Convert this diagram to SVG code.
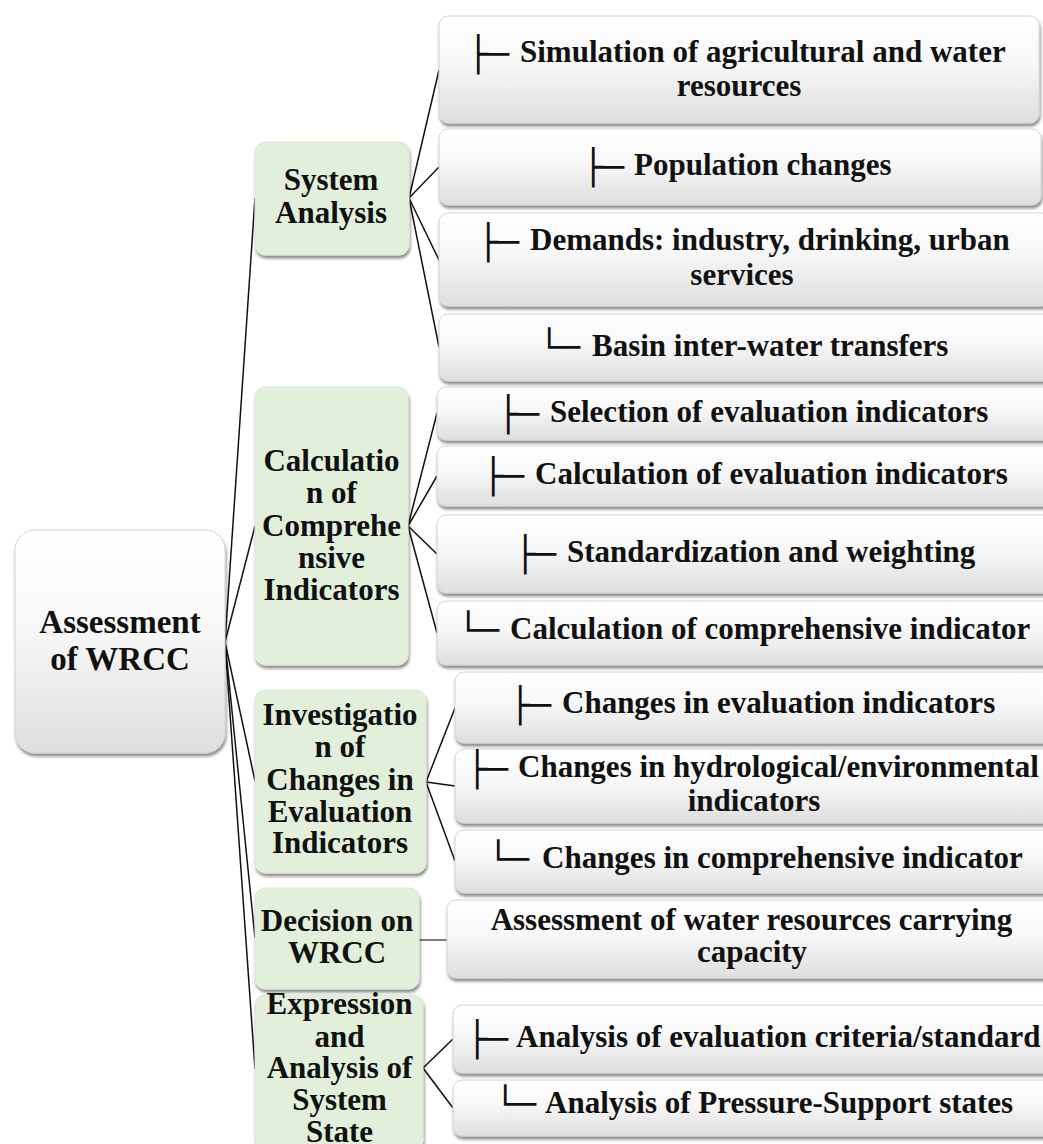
<svg xmlns="http://www.w3.org/2000/svg" width="1043" height="1144" viewBox="0 0 1043 1144">
<defs>
<linearGradient id="gw" x1="0" y1="0" x2="0" y2="1">
<stop offset="0" stop-color="#ffffff"/>
<stop offset="0.45" stop-color="#f7f7f7"/>
<stop offset="1" stop-color="#dedede"/>
</linearGradient>
<filter id="sh" x="-10%" y="-10%" width="120%" height="130%">
<feDropShadow dx="1" dy="3" stdDeviation="1.8" flood-color="#000" flood-opacity="0.45"/>
</filter>
</defs>
<style>
.w{fill:url(#gw);stroke:#d4d4d4;stroke-width:1;filter:url(#sh)}
.g{fill:#e2efda;stroke:#dce8d4;stroke-width:1;filter:url(#sh)}
.t{font-family:"Liberation Serif","Times New Roman",serif;font-weight:bold;font-size:31px;fill:#111}
.c{text-anchor:middle}
.r{font-size:33px}
.s{font-family:"DejaVu Sans",sans-serif;font-weight:normal;font-size:34px}
.ln{stroke:#111;stroke-width:1.5;fill:none}
</style>
<g id="connectors">
<line class="ln" x1="225" y1="642" x2="255" y2="198"/>
<line class="ln" x1="225" y1="642" x2="255" y2="526"/>
<line class="ln" x1="225" y1="642" x2="255" y2="781"/>
<line class="ln" x1="225" y1="642" x2="255" y2="938"/>
<line class="ln" x1="225" y1="642" x2="255" y2="1069"/>
<line class="ln" x1="409" y1="198" x2="439" y2="70"/>
<line class="ln" x1="409" y1="198" x2="439" y2="167"/>
<line class="ln" x1="409" y1="198" x2="439" y2="260"/>
<line class="ln" x1="409" y1="198" x2="439" y2="347"/>
<line class="ln" x1="408" y1="526" x2="437" y2="413"/>
<line class="ln" x1="408" y1="526" x2="437" y2="476"/>
<line class="ln" x1="408" y1="526" x2="437" y2="554"/>
<line class="ln" x1="408" y1="526" x2="437" y2="633"/>
<line class="ln" x1="426" y1="782" x2="455" y2="708"/>
<line class="ln" x1="426" y1="782" x2="455" y2="786"/>
<line class="ln" x1="426" y1="782" x2="455" y2="861"/>
<line class="ln" x1="419" y1="940" x2="447" y2="940" style="stroke:#555"/>
<line class="ln" x1="423" y1="1068" x2="453" y2="1039"/>
<line class="ln" x1="423" y1="1068" x2="453" y2="1108"/>
</g>
<g id="root">
<rect class="w" x="15" y="530" width="210" height="223" rx="20"/>
<text class="t c r" x="120" y="633">Assessment</text>
<text class="t c r" x="120" y="670">of WRCC</text>
</g>
<g id="system-analysis">
<rect class="g" x="255" y="142" width="154" height="113" rx="10"/>
<text class="t c" x="331" y="190">System</text>
<text class="t c" x="331" y="223">Analysis</text>
</g>
<g id="calc-indicators">
<rect class="g" x="255" y="387" width="153" height="278" rx="10"/>
<text class="t c" x="331.5" y="471">Calculatio</text>
<text class="t c" x="331.5" y="503">n of</text>
<text class="t c" x="331.5" y="536">Comprehe</text>
<text class="t c" x="331.5" y="568">nsive</text>
<text class="t c" x="331.5" y="600">Indicators</text>
</g>
<g id="investigation">
<rect class="g" x="255" y="690" width="171" height="183" rx="10"/>
<text class="t c" x="340" y="725">Investigatio</text>
<text class="t c" x="340" y="757">n of</text>
<text class="t c" x="340" y="790">Changes in</text>
<text class="t c" x="340" y="822">Evaluation</text>
<text class="t c" x="340" y="853">Indicators</text>
</g>
<g id="decision">
<rect class="g" x="255" y="888" width="164" height="101" rx="10"/>
<text class="t c" x="337" y="931">Decision on</text>
<text class="t c" x="337" y="963">WRCC</text>
</g>
<g id="expression">
<rect class="g" x="255" y="995" width="168" height="155" rx="10"/>
<text class="t c" x="339.5" y="1014">Expression</text>
<text class="t c" x="339.5" y="1047">and</text>
<text class="t c" x="339.5" y="1078">Analysis of</text>
<text class="t c" x="339.5" y="1110">System</text>
<text class="t c" x="339.5" y="1142">State</text>
</g>
<g id="sa-1">
<rect class="w" x="439" y="16" width="600" height="107" rx="9"/>
<text class="t"><tspan class="s" x="468" y="66">├─</tspan><tspan x="520" y="62">Simulation of agricultural and water</tspan></text>
<text class="t c" x="739" y="96">resources</text>
</g>
<g id="sa-2">
<rect class="w" x="439" y="129" width="602" height="76" rx="9"/>
<text class="t"><tspan class="s" x="583" y="179">├─</tspan><tspan x="634" y="175">Population changes</tspan></text>
</g>
<g id="sa-3">
<rect class="w" x="439" y="213" width="612" height="93" rx="9"/>
<text class="t"><tspan class="s" x="478" y="254">├─</tspan><tspan x="530" y="250">Demands: industry, drinking, urban</tspan></text>
<text class="t c" x="742" y="285">services</text>
</g>
<g id="sa-4">
<rect class="w" x="439" y="314" width="615" height="67" rx="9"/>
<text class="t"><tspan class="s" x="539" y="359">└─</tspan><tspan x="592" y="356">Basin inter-water transfers</tspan></text>
</g>
<g id="ci-1">
<rect class="w" x="437" y="387" width="625" height="53" rx="9"/>
<text class="t"><tspan class="s" x="498" y="426">├─</tspan><tspan x="550" y="422">Selection of evaluation indicators</tspan></text>
</g>
<g id="ci-2">
<rect class="w" x="437" y="446" width="625" height="60" rx="9"/>
<text class="t"><tspan class="s" x="483" y="488">├─</tspan><tspan x="535" y="484">Calculation of evaluation indicators</tspan></text>
</g>
<g id="ci-3">
<rect class="w" x="437" y="515" width="625" height="78" rx="9"/>
<text class="t"><tspan class="s" x="515" y="566">├─</tspan><tspan x="567" y="562">Standardization and weighting</tspan></text>
</g>
<g id="ci-4">
<rect class="w" x="437" y="601" width="625" height="64" rx="9"/>
<text class="t"><tspan class="s" x="458" y="642">└─</tspan><tspan x="510" y="639">Calculation of comprehensive indicator</tspan></text>
</g>
<g id="inv-1">
<rect class="w" x="455" y="672" width="610" height="71" rx="9"/>
<text class="t"><tspan class="s" x="510" y="717">├─</tspan><tspan x="562" y="713">Changes in evaluation indicators</tspan></text>
</g>
<g id="inv-2">
<rect class="w" x="455" y="749" width="610" height="74" rx="9"/>
<text class="t"><tspan class="s" x="467" y="781">├─</tspan><tspan x="518" y="777">Changes in hydrological/environmental</tspan></text>
<text class="t c" x="754" y="811">indicators</text>
</g>
<g id="inv-3">
<rect class="w" x="455" y="830" width="610" height="63" rx="9"/>
<text class="t"><tspan class="s" x="488" y="871">└─</tspan><tspan x="542" y="868">Changes in comprehensive indicator</tspan></text>
</g>
<g id="dec-1">
<rect class="w" x="447" y="900" width="615" height="78" rx="9"/>
<text class="t c" x="751.5" y="930">Assessment of water resources carrying</text>
<text class="t c" x="752" y="962">capacity</text>
</g>
<g id="exp-1">
<rect class="w" x="453" y="1005" width="610" height="68" rx="9"/>
<text class="t"><tspan class="s" x="467" y="1051">├─</tspan><tspan x="516" y="1047">Analysis of evaluation criteria/standard</tspan></text>
</g>
<g id="exp-2">
<rect class="w" x="453" y="1080" width="610" height="56" rx="9"/>
<text class="t"><tspan class="s" x="495" y="1116">└─</tspan><tspan x="545" y="1113">Analysis of Pressure-Support states</tspan></text>
</g>
</svg>
